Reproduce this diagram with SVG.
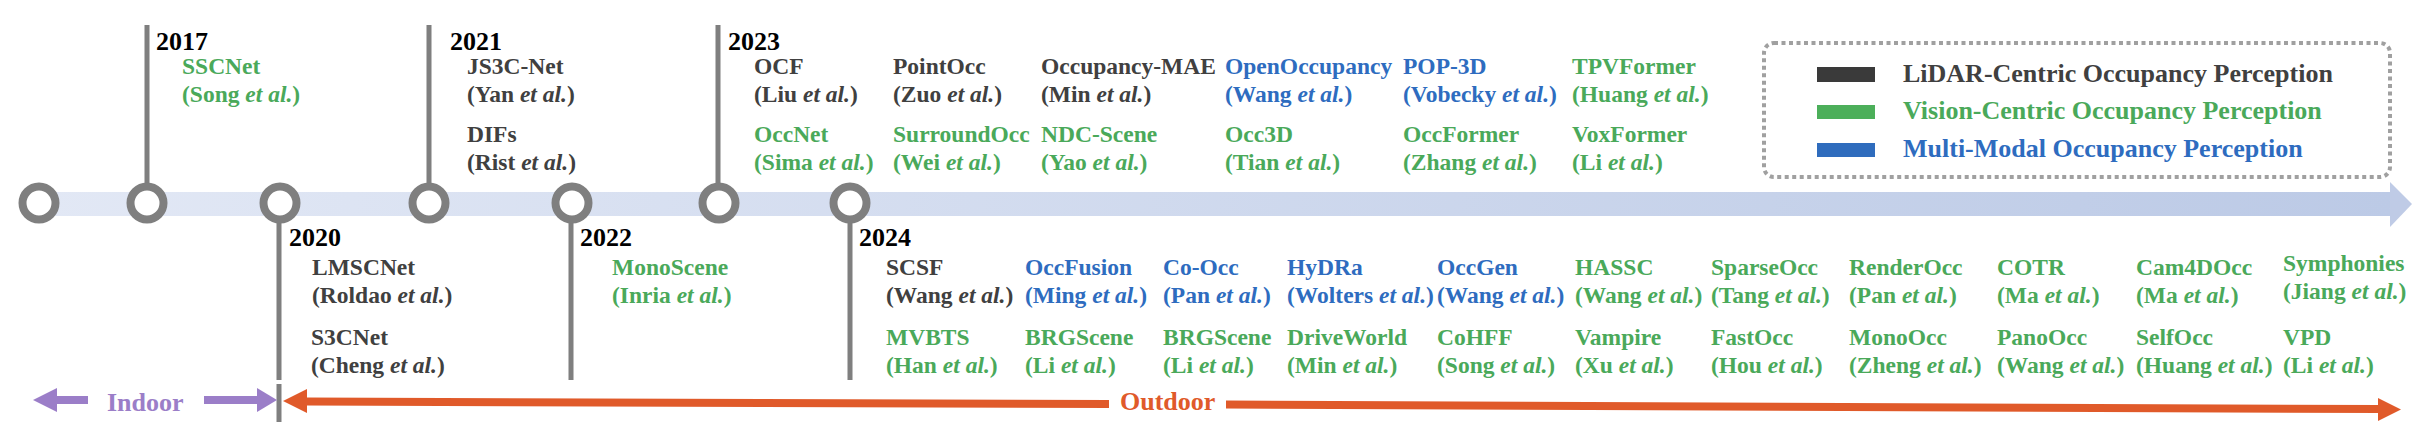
<svg xmlns="http://www.w3.org/2000/svg" width="2422" height="446" viewBox="0 0 2422 446">
<defs>
<linearGradient id="band" x1="0" y1="0" x2="1" y2="0">
<stop offset="0" stop-color="#e2e8f5"/>
<stop offset="1" stop-color="#bccae6"/>
</linearGradient>
<style>
text{font-family:"Liberation Serif","Times New Roman",serif;font-weight:bold}
.yr{font-size:26px;fill:#000}
.lbl{font-size:23.5px}
.lg{font-size:26px}
.g{fill:#4aa95a}
.k{fill:#404040}
.b{fill:#2e6cbf}
.it{font-style:italic}
.vl{stroke:#7f7f7f;stroke-width:5;fill:none}
.dot{fill:#fff;stroke:#7f7f7f;stroke-width:8}
.pur{stroke:#9b7ec8;stroke-width:8}
.org{stroke:#e05a2a;stroke-width:8}
</style>
</defs>
<rect width="2422" height="446" fill="#fff"/>
<g id="connectors">
<rect x="39" y="192" width="2352" height="24" fill="url(#band)"/>
<polygon points="2390,182 2412,204 2390,227" fill="#bfcbe6"/>
<line class="vl" x1="147" y1="25" x2="147" y2="190"/>
<line class="vl" x1="279" y1="215" x2="279" y2="380"/>
<line class="vl" x1="429" y1="25" x2="429" y2="190"/>
<line class="vl" x1="571" y1="215" x2="571" y2="380"/>
<line class="vl" x1="718" y1="25" x2="718" y2="190"/>
<line class="vl" x1="850" y1="215" x2="850" y2="380"/>
<line class="vl" x1="279" y1="384" x2="279" y2="422"/>
<circle class="dot" cx="39" cy="203" r="16.5"/>
<circle class="dot" cx="147" cy="203" r="16.5"/>
<circle class="dot" cx="280" cy="203" r="16.5"/>
<circle class="dot" cx="429" cy="203" r="16.5"/>
<circle class="dot" cx="572" cy="203" r="16.5"/>
<circle class="dot" cx="719" cy="203" r="16.5"/>
<circle class="dot" cx="850" cy="203" r="16.5"/>
<polygon points="33,400 57,388 57,412" fill="#9b7ec8"/>
<line class="pur" x1="56" y1="400" x2="88" y2="400"/>
<line class="pur" x1="204" y1="400" x2="258" y2="400"/>
<polygon points="257,388 277,400 257,412" fill="#9b7ec8"/>
<polygon points="283,401 307,389 307,413" fill="#e05a2a"/>
<line class="org" x1="306" y1="401.5" x2="1109" y2="404"/>
<line class="org" x1="1226" y1="404.5" x2="2380" y2="409"/>
<polygon points="2378,398 2401,409.5 2378,421" fill="#e05a2a"/>
</g>
<g id="scope-labels">
<text class="lg" x="107" y="411" fill="#9b7ec8">Indoor</text>
<text class="lg" x="1120" y="410" fill="#e05a2a">Outdoor</text>
</g>
<g id="years">
<text class="yr" x="156" y="50">2017</text>
<text class="yr" x="289" y="246">2020</text>
<text class="yr" x="450" y="50">2021</text>
<text class="yr" x="580" y="246">2022</text>
<text class="yr" x="728" y="50">2023</text>
<text class="yr" x="859" y="246">2024</text>
</g>
<g id="legend">
<rect x="1764" y="43" width="626" height="134" rx="10" fill="none" stroke="#a0a0a0" stroke-width="4" stroke-dasharray="4 3.5"/>
<rect x="1817" y="67" width="58" height="15" fill="#3a3a3a"/>
<rect x="1817" y="105" width="58" height="14" fill="#4caf5a"/>
<rect x="1817" y="143" width="58" height="14" fill="#2f6cbd"/>
<text class="lg k" x="1903" y="82">LiDAR-Centric Occupancy Perception</text>
<text class="lg g" x="1903" y="119">Vision-Centric Occupancy Perception</text>
<text class="lg b" x="1903" y="157">Multi-Modal Occupancy Perception</text>
</g>
<g id="n-sscnet"><text class="lbl g" x="182" y="74">SSCNet</text><text class="lbl g" x="182" y="102">(Song <tspan class="it">et al.</tspan>)</text></g>
<g id="n-js3cnet"><text class="lbl k" x="467" y="74">JS3C-Net</text><text class="lbl k" x="467" y="102">(Yan <tspan class="it">et al.</tspan>)</text></g>
<g id="n-difs"><text class="lbl k" x="467" y="142">DIFs</text><text class="lbl k" x="467" y="170">(Rist <tspan class="it">et al.</tspan>)</text></g>
<g id="n-ocf"><text class="lbl k" x="754" y="74">OCF</text><text class="lbl k" x="754" y="102">(Liu <tspan class="it">et al.</tspan>)</text></g>
<g id="n-occnet"><text class="lbl g" x="754" y="142">OccNet</text><text class="lbl g" x="754" y="170">(Sima <tspan class="it">et al.</tspan>)</text></g>
<g id="n-pointocc"><text class="lbl k" x="893" y="74">PointOcc</text><text class="lbl k" x="893" y="102">(Zuo <tspan class="it">et al.</tspan>)</text></g>
<g id="n-surroundocc"><text class="lbl g" x="893" y="142">SurroundOcc</text><text class="lbl g" x="893" y="170">(Wei <tspan class="it">et al.</tspan>)</text></g>
<g id="n-occmae"><text class="lbl k" x="1041" y="74">Occupancy-MAE</text><text class="lbl k" x="1041" y="102">(Min <tspan class="it">et al.</tspan>)</text></g>
<g id="n-ndcscene"><text class="lbl g" x="1041" y="142">NDC-Scene</text><text class="lbl g" x="1041" y="170">(Yao <tspan class="it">et al.</tspan>)</text></g>
<g id="n-openocc"><text class="lbl b" x="1225" y="74">OpenOccupancy</text><text class="lbl b" x="1225" y="102">(Wang <tspan class="it">et al.</tspan>)</text></g>
<g id="n-occ3d"><text class="lbl g" x="1225" y="142">Occ3D</text><text class="lbl g" x="1225" y="170">(Tian <tspan class="it">et al.</tspan>)</text></g>
<g id="n-pop3d"><text class="lbl b" x="1403" y="74">POP-3D</text><text class="lbl b" x="1403" y="102">(Vobecky <tspan class="it">et al.</tspan>)</text></g>
<g id="n-occformer"><text class="lbl g" x="1403" y="142">OccFormer</text><text class="lbl g" x="1403" y="170">(Zhang <tspan class="it">et al.</tspan>)</text></g>
<g id="n-tpvformer"><text class="lbl g" x="1572" y="74">TPVFormer</text><text class="lbl g" x="1572" y="102">(Huang <tspan class="it">et al.</tspan>)</text></g>
<g id="n-voxformer"><text class="lbl g" x="1572" y="142">VoxFormer</text><text class="lbl g" x="1572" y="170">(Li <tspan class="it">et al.</tspan>)</text></g>
<g id="n-lmscnet"><text class="lbl k" x="312" y="275">LMSCNet</text><text class="lbl k" x="312" y="303">(Roldao <tspan class="it">et al.</tspan>)</text></g>
<g id="n-s3cnet"><text class="lbl k" x="311" y="345">S3CNet</text><text class="lbl k" x="311" y="373">(Cheng <tspan class="it">et al.</tspan>)</text></g>
<g id="n-monoscene"><text class="lbl g" x="612" y="275">MonoScene</text><text class="lbl g" x="612" y="303">(Inria <tspan class="it">et al.</tspan>)</text></g>
<g id="n-scsf"><text class="lbl k" x="886" y="275">SCSF</text><text class="lbl k" x="886" y="303">(Wang <tspan class="it">et al.</tspan>)</text></g>
<g id="n-mvbts"><text class="lbl g" x="886" y="345">MVBTS</text><text class="lbl g" x="886" y="373">(Han <tspan class="it">et al.</tspan>)</text></g>
<g id="n-occfusion"><text class="lbl b" x="1025" y="275">OccFusion</text><text class="lbl b" x="1025" y="303">(Ming <tspan class="it">et al.</tspan>)</text></g>
<g id="n-brgscene1"><text class="lbl g" x="1025" y="345">BRGScene</text><text class="lbl g" x="1025" y="373">(Li <tspan class="it">et al.</tspan>)</text></g>
<g id="n-coocc"><text class="lbl b" x="1163" y="275">Co-Occ</text><text class="lbl b" x="1163" y="303">(Pan <tspan class="it">et al.</tspan>)</text></g>
<g id="n-brgscene2"><text class="lbl g" x="1163" y="345">BRGScene</text><text class="lbl g" x="1163" y="373">(Li <tspan class="it">et al.</tspan>)</text></g>
<g id="n-hydra"><text class="lbl b" x="1287" y="275">HyDRa</text><text class="lbl b" x="1287" y="303">(Wolters <tspan class="it">et al.</tspan>)</text></g>
<g id="n-driveworld"><text class="lbl g" x="1287" y="345">DriveWorld</text><text class="lbl g" x="1287" y="373">(Min <tspan class="it">et al.</tspan>)</text></g>
<g id="n-occgen"><text class="lbl b" x="1437" y="275">OccGen</text><text class="lbl b" x="1437" y="303">(Wang <tspan class="it">et al.</tspan>)</text></g>
<g id="n-cohff"><text class="lbl g" x="1437" y="345">CoHFF</text><text class="lbl g" x="1437" y="373">(Song <tspan class="it">et al.</tspan>)</text></g>
<g id="n-hassc"><text class="lbl g" x="1575" y="275">HASSC</text><text class="lbl g" x="1575" y="303">(Wang <tspan class="it">et al.</tspan>)</text></g>
<g id="n-vampire"><text class="lbl g" x="1575" y="345">Vampire</text><text class="lbl g" x="1575" y="373">(Xu <tspan class="it">et al.</tspan>)</text></g>
<g id="n-sparseocc"><text class="lbl g" x="1711" y="275">SparseOcc</text><text class="lbl g" x="1711" y="303">(Tang <tspan class="it">et al.</tspan>)</text></g>
<g id="n-fastocc"><text class="lbl g" x="1711" y="345">FastOcc</text><text class="lbl g" x="1711" y="373">(Hou <tspan class="it">et al.</tspan>)</text></g>
<g id="n-renderocc"><text class="lbl g" x="1849" y="275">RenderOcc</text><text class="lbl g" x="1849" y="303">(Pan <tspan class="it">et al.</tspan>)</text></g>
<g id="n-monoocc"><text class="lbl g" x="1849" y="345">MonoOcc</text><text class="lbl g" x="1849" y="373">(Zheng <tspan class="it">et al.</tspan>)</text></g>
<g id="n-cotr"><text class="lbl g" x="1997" y="275">COTR</text><text class="lbl g" x="1997" y="303">(Ma <tspan class="it">et al.</tspan>)</text></g>
<g id="n-panoocc"><text class="lbl g" x="1997" y="345">PanoOcc</text><text class="lbl g" x="1997" y="373">(Wang <tspan class="it">et al.</tspan>)</text></g>
<g id="n-cam4docc"><text class="lbl g" x="2136" y="275">Cam4DOcc</text><text class="lbl g" x="2136" y="303">(Ma <tspan class="it">et al.</tspan>)</text></g>
<g id="n-selfocc"><text class="lbl g" x="2136" y="345">SelfOcc</text><text class="lbl g" x="2136" y="373">(Huang <tspan class="it">et al.</tspan>)</text></g>
<g id="n-symphonies"><text class="lbl g" x="2283" y="271">Symphonies</text><text class="lbl g" x="2283" y="299">(Jiang <tspan class="it">et al.</tspan>)</text></g>
<g id="n-vpd"><text class="lbl g" x="2283" y="345">VPD</text><text class="lbl g" x="2283" y="373">(Li <tspan class="it">et al.</tspan>)</text></g>
</svg>
